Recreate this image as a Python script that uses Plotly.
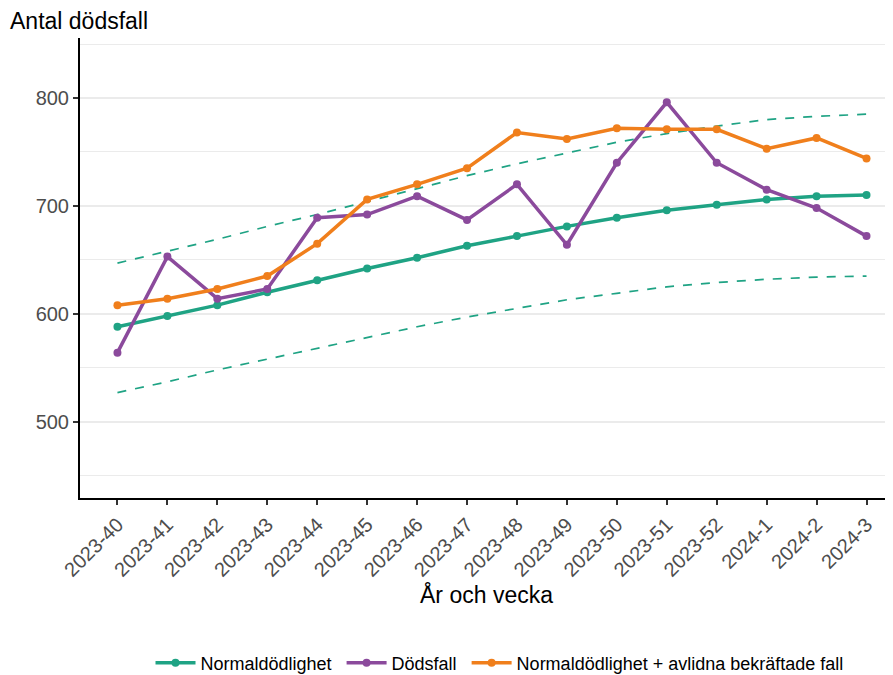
import plotly.graph_objects as go

# Veckor
veckor = ["2023-40", "2023-41", "2023-42", "2023-43", "2023-44", "2023-45", "2023-46", "2023-47",
          "2023-48", "2023-49", "2023-50", "2023-51", "2023-52", "2024-1", "2024-2", "2024-3"]

# Normaldödlighet (förväntat antal)
normal = [588, 598, 608, 620, 631, 642, 652, 663, 672, 681, 689, 696, 701, 706, 709, 710]

# Faktiska dödsfall
dodsfall = [564, 653, 614, 623, 689, 692, 709, 687, 720, 664, 740, 796, 740, 715, 698, 672]

# Normaldödlighet + avlidna bekräftade fall
normal_plus = [608, 614, 623, 635, 665, 706, 720, 735, 768, 762, 772, 771, 771, 753, 763, 744]

# Övre och undre gräns för normaldödlighet
ovre = [647, 658, 669, 681, 692, 704, 716, 728, 739, 749, 759, 767, 774, 780, 783, 785]
undre = [527, 537, 548, 558, 568, 578, 588, 597, 605, 613, 619, 625, 629, 632, 634, 635]

gron = "#1fa384"
lila = "#8b4a9c"
orange = "#f07f1c"

fig = go.Figure()

# Gränser (streckade)
for band in [ovre, undre]:
    fig.add_trace(go.Scatter(x=veckor, y=band, mode="lines", showlegend=False,
                             line=dict(color=gron, width=1.7, dash="dash"), hoverinfo="skip"))

fig.add_trace(go.Scatter(x=veckor, y=normal, mode="lines+markers", name="Normaldödlighet ",
                         line=dict(color=gron, width=3.5), marker=dict(size=8, color=gron)))
fig.add_trace(go.Scatter(x=veckor, y=dodsfall, mode="lines+markers", name="Dödsfall ",
                         line=dict(color=lila, width=3.5), marker=dict(size=8, color=lila)))
fig.add_trace(go.Scatter(x=veckor, y=normal_plus, mode="lines+markers",
                         name="Normaldödlighet + avlidna bekräftade fall",
                         line=dict(color=orange, width=3.5), marker=dict(size=8, color=orange)))

# Sidan har 8 px marginal i body, därför flyttas allt 8 px
fig.update_layout(
    width=893, height=675,
    margin=dict(l=72, r=8, t=30, b=185, autoexpand=False),
    plot_bgcolor="white", paper_bgcolor="white",
    font=dict(family="Liberation Sans, Arial, sans-serif", size=20, color="#4d4d4d"),
    legend=dict(orientation="h", x=0.516, xanchor="center", y=-0.359, yanchor="middle",
                font=dict(size=18, color="black"), itemwidth=40),
    annotations=[dict(text="Antal dödsfall", xref="paper", yref="paper", x=-0.088, y=1.005,
                      xanchor="left", yanchor="bottom", showarrow=False,
                      font=dict(size=23, color="black"))],
)

fig.update_xaxes(
    type="category", range=[-0.75, 15.53], tickangle=-45, automargin=False,
    showline=True, linecolor="black", linewidth=2,
    ticks="outside", ticklen=5, tickwidth=2, tickcolor="#333333",
    showgrid=False,
    title=dict(text="År och vecka", font=dict(size=23, color="black"), standoff=4),
)
fig.update_yaxes(
    range=[429.3, 855.6], tick0=500, dtick=100, automargin=False,
    showline=True, linecolor="black", linewidth=2,
    ticks="outside", ticklen=5, tickwidth=2, tickcolor="#333333",
    showgrid=True, gridcolor="#ebebeb", gridwidth=2, zeroline=False,
    minor=dict(dtick=50, tick0=450, showgrid=True, gridcolor="#ebebeb", gridwidth=1, ticks=""),
)

fig.write_html("out.html")
